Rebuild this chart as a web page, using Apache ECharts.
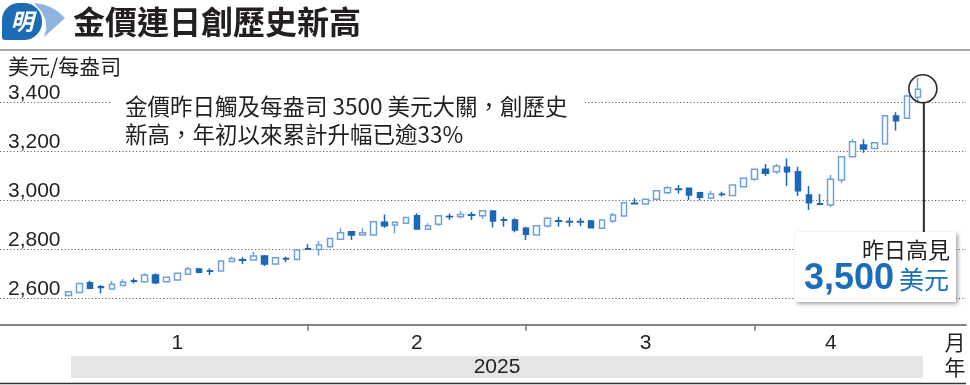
<!DOCTYPE html>
<html><head><meta charset="utf-8">
<script src="https://cdn.jsdelivr.net/npm/echarts@6/dist/echarts.min.js"></script>
<style>html,body{margin:0;padding:0;background:#fff}#c{width:970px;height:385px}</style>
</head><body><div id="c"></div>
<script>
// ---- data ----
const dates = [
 '2025-01-02','2025-01-03','2025-01-06','2025-01-07','2025-01-08','2025-01-09','2025-01-10',
 '2025-01-13','2025-01-14','2025-01-15','2025-01-16','2025-01-17','2025-01-20','2025-01-21',
 '2025-01-22','2025-01-23','2025-01-24','2025-01-27','2025-01-28','2025-01-29','2025-01-30','2025-01-31',
 '2025-02-03','2025-02-04','2025-02-05','2025-02-06','2025-02-07','2025-02-10','2025-02-11',
 '2025-02-12','2025-02-13','2025-02-14','2025-02-17','2025-02-18','2025-02-19','2025-02-20',
 '2025-02-21','2025-02-24','2025-02-25','2025-02-26','2025-02-27','2025-02-28',
 '2025-03-03','2025-03-04','2025-03-05','2025-03-06','2025-03-07','2025-03-10','2025-03-11',
 '2025-03-12','2025-03-13','2025-03-14','2025-03-17','2025-03-18','2025-03-19','2025-03-20',
 '2025-03-21','2025-03-24','2025-03-25','2025-03-26','2025-03-27','2025-03-28','2025-03-31',
 '2025-04-01','2025-04-02','2025-04-03','2025-04-04','2025-04-07','2025-04-08','2025-04-09',
 '2025-04-10','2025-04-11','2025-04-14','2025-04-15','2025-04-16','2025-04-17','2025-04-18',
 '2025-04-21','2025-04-22'
];
const openP = [2609,2622,2662,2645,2636,2650,2670,2666,2693,2666,2673,2696,2718,2711,2710,2748,2756,2755,2771,2738,2761,2757,
 2801,2798,2809,2839,2870,2857,2857,2909,2898,2905,2936,2880,2901,2933,2932,2940,2936,2955,2919,2918,
 2884,2857,2894,2915,2912,2912,2914,2884,2914,2935,2987,2984,3003,3030,3045,3048,3030,3007,3024,3018,3054,
 3085,3126,3116,3134,3116,3020,2985,2980,3082,3177,3225,3211,3229,3344,3334,3420];
const closeP = [2625,2659,2639,2642,2655,2665,2668,2693,2662,2684,2700,2718,2704,2709,2751,2761,2754,2771,2738,2764,2759,2795,
 2799,2816,2843,2866,2857,2866,2911,2895,2909,2928,2881,2895,2936,2931,2941,2938,2956,2914,2917,2877,
 2860,2895,2925,2913,2910,2910,2887,2918,2939,2989,2985,3003,3038,3050,3043,3020,3011,3025,3022,3061,3089,
 3126,3109,3139,3116,3038,2989,2983,3085,3177,3238,3209,3234,3345,3324,3425,3453];
const lowP = [2605,2620,2635,2618,2634,2648,2659,2664,2655,2664,2671,2694,2700,2693,2708,2746,2738,2753,2730,2733,2745,2755,
 2795,2772,2805,2837,2836,2855,2854,2887,2864,2903,2879,2878,2894,2918,2925,2918,2922,2888,2891,2868,
 2836,2855,2888,2891,2891,2893,2884,2880,2907,2933,2983,2982,3000,3025,3027,3000,2999,3005,3014,3016,3052,
 3079,3098,3106,3057,3016,2959,2980,2970,3071,3173,3193,3209,3227,3284,3332,3396];
const highP = [2628,2661,2670,2652,2669,2676,2680,2700,2700,2686,2702,2727,2722,2721,2752,2768,2766,2789,2775,2766,2768,2797,
 2819,2832,2845,2884,2872,2884,2913,2941,2911,2930,2946,2905,2938,2945,2955,2952,2958,2957,2932,2925,
 2891,2897,2932,2932,2928,2926,2918,2920,2948,2991,3007,3005,3040,3057,3061,3050,3034,3038,3034,3063,3091,
 3128,3147,3147,3170,3136,3057,3025,3102,3180,3248,3248,3236,3347,3359,3430,3500];

const monthStartIdx = [22, 42, 63];
const monthLabelIdx = [10, 32, 53, 70];
const monthLabels = ['1', '2', '3', '4'];
const yearLabel = '2025';
const unitLabel = '美元/每盎司';
const titleText = '金價連日創歷史新高';
const noteLines = ['金價昨日觸及每盎司 3500 美元大關，創歷史', '新高，年初以來累計升幅已逾33%'];
const calloutTitle = '昨日高見';
const calloutValue = '3,500';
const calloutUnit = '美元';
const yMin = 2490, yMax = 3510;

// ---- chart ----
const candleData = dates.map((d, i) => [openP[i], closeP[i], lowP[i], highP[i]]);
const CJK = '"Noto Sans CJK TC","Noto Sans CJK SC",sans-serif';
const LAT = '"Liberation Sans",Arial,sans-serif';
const TXT = '#231f20';
const gridTop = 75.3, gridH = 249.4;

const chart = echarts.init(document.getElementById('c'), null, {renderer: 'canvas'});
const option = {
  animation: false,
  backgroundColor: '#fff',
  grid: [
    {left: 0, right: 4, top: gridTop, height: gridH},
    {left: 63, width: 860.3, top: gridTop, height: gridH}
  ],
  xAxis: [
    {type: 'value', gridIndex: 0, min: 0, max: 1,
     axisLine: {show: true, onZero: false, lineStyle: {color: '#858585', width: 2}},
     axisTick: {show: false}, axisLabel: {show: false}, splitLine: {show: false}},
    {type: 'category', gridIndex: 1, data: dates, boundaryGap: true,
     axisLine: {show: false},
     axisTick: {show: true, alignWithLabel: true, length: 6,
       interval: (idx) => monthStartIdx.indexOf(idx) >= 0,
       lineStyle: {color: '#777', width: 1.5}},
     axisLabel: {show: true, margin: 8, fontFamily: LAT, fontSize: 21, color: TXT,
       interval: (idx) => monthLabelIdx.indexOf(idx) >= 0,
       formatter: (v, idx) => { const k = monthLabelIdx.indexOf(idx); return k >= 0 ? monthLabels[k] : ''; }},
     splitLine: {show: false}}
  ],
  yAxis: [
    {type: 'value', gridIndex: 0, min: yMin, max: yMax, splitNumber: 5, minInterval: 200, maxInterval: 200,
     axisLine: {show: false}, axisTick: {show: false},
     axisLabel: {inside: true, margin: 8, fontFamily: LAT, fontSize: 21, color: TXT,
       verticalAlign: 'bottom', lineHeight: 17, showMinLabel: false, showMaxLabel: false,
       formatter: (v) => Number(v).toLocaleString('en-US')},
     splitLine: {show: true, showMinLine: false, showMaxLine: false,
       lineStyle: {color: '#666', width: 1, type: [1.2, 2.2]}}},
    {type: 'value', gridIndex: 1, min: yMin, max: yMax, show: false, splitLine: {show: false}}
  ],
  series: [{
    type: 'candlestick', xAxisIndex: 1, yAxisIndex: 1, data: candleData, barWidth: 6,
    itemStyle: {color: '#ffffff', color0: '#1b68b5', borderColor: '#6ea1d9', borderColor0: '#1b68b5', borderWidth: 1.5}
  }]
};
chart.setOption(option);

// annotations
const p = chart.convertToPixel({seriesIndex: 0}, [dates.length - 1, 3455]);
const cx = p[0] + 5, cy = p[1], r = 14;
const box = {x: 795, y: 232, w: 161, h: 70};
chart.setOption({graphic: [
  // logo
  {type: 'rect', shape: {x: 2, y: 3, width: 40, height: 37, r: [17, 18, 18, 3]}, style: {fill: '#1c6cb5'}, z: 100},
  {type: 'polygon', shape: {points: [[34,3],[42.7,4.3],[50.75,7.25],[58.2,11.8],[65,18],[44,37],[46.4,28.5],[45.5,20],[41.4,11.5]]},
   style: {fill: '#8fb3df'}, z: 99},
  {type: 'text', style: {text: '明', x: 22, y: 21.5, fill: '#fff', font: 'italic bold 23px ' + CJK, align: 'center', verticalAlign: 'middle'}, z: 101},
  // title
  {type: 'text', style: {text: titleText, x: 73, y: 22, fill: TXT, font: 'bold 32px ' + CJK, verticalAlign: 'middle'}, z: 100},
  {type: 'line', shape: {x1: 0, y1: 50, x2: 970, y2: 50}, style: {stroke: '#8a8a8a', lineWidth: 1.5}, z: 100},
  // unit
  {type: 'text', style: {text: unitLabel, x: 8, y: 66, fill: TXT, font: '21px ' + CJK, verticalAlign: 'middle'}, z: 100},
  // note
  {type: 'rect', shape: {x: 112, y: 88, width: 473, height: 60}, style: {fill: '#fff'}, z: 100},
  {type: 'text', style: {text: noteLines[0], x: 125, y: 106, fill: TXT, font: '22.5px ' + CJK, verticalAlign: 'middle'}, z: 101},
  {type: 'text', style: {text: noteLines[1], x: 125, y: 134, fill: TXT, font: '22.5px ' + CJK, verticalAlign: 'middle'}, z: 101},
  // highlight circle + leader
  {type: 'circle', shape: {cx: cx, cy: cy, r: r}, style: {fill: 'none', stroke: '#2b2b2b', lineWidth: 1.6}, z: 100},
  {type: 'line', shape: {x1: cx + 1, y1: cy + r, x2: cx + 1, y2: box.y}, style: {stroke: '#2b2b2b', lineWidth: 2}, z: 100},
  // callout box
  {type: 'rect', shape: {x: box.x, y: box.y, width: box.w, height: box.h},
   style: {fill: '#fff', shadowBlur: 4, shadowColor: 'rgba(0,0,0,0.35)', shadowOffsetX: 2, shadowOffsetY: 2}, z: 100},
  {type: 'text', style: {text: calloutTitle, x: 950, y: 250, fill: TXT, font: '22px ' + CJK, align: 'right', verticalAlign: 'middle'}, z: 101},
  {type: 'text', style: {text: calloutValue, x: 894, y: 279, fill: '#1a6db8', font: 'bold 36px ' + LAT, align: 'right', verticalAlign: 'middle'}, z: 101},
  {type: 'text', style: {text: calloutUnit, x: 899, y: 279, fill: '#1a6db8', font: '25px ' + CJK, verticalAlign: 'middle'}, z: 101},
  // month / year
  {type: 'text', style: {text: '月', x: 955, y: 342, fill: TXT, font: '21px ' + CJK, align: 'center', verticalAlign: 'middle'}, z: 100},
  {type: 'rect', shape: {x: 71, y: 356, width: 852, height: 22}, style: {fill: '#e4e5e6'}, z: 90},
  {type: 'text', style: {text: yearLabel, x: 497, y: 367, fill: TXT, font: '21px ' + LAT, align: 'center', verticalAlign: 'middle'}, z: 100},
  {type: 'text', style: {text: '年', x: 955, y: 367, fill: TXT, font: '21px ' + CJK, align: 'center', verticalAlign: 'middle'}, z: 100},
  {type: 'line', shape: {x1: 0, y1: 383.5, x2: 966, y2: 383.5}, style: {stroke: '#333', lineWidth: 1.5}, z: 100}
]});
</script>
</body></html>
